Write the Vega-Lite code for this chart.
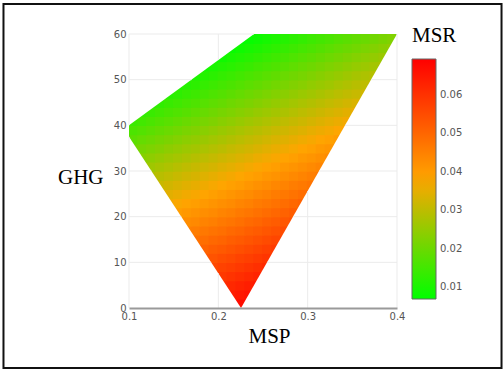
{
"$schema": "https://vega.github.io/schema/vega-lite/v6.json",
"autosize": {"type": "none"},
"width": 268,
"height": 274,
"padding": {"left": 129, "top": 34, "right": 107, "bottom": 62},
"background": "white",
"config": {"view": {"stroke": null}},
"layer": [
{
"data": {"values": [
{"MSP":0.215,"GHG":1,"MSR":0.0660},{"MSP":0.225,"GHG":1,"MSR":0.0670},{"MSP":0.235,"GHG":1,"MSR":0.0679},
{"MSP":0.215,"GHG":3,"MSR":0.0639},{"MSP":0.225,"GHG":3,"MSR":0.0649},{"MSP":0.235,"GHG":3,"MSR":0.0658},
{"MSP":0.205,"GHG":5,"MSR":0.0609},{"MSP":0.215,"GHG":5,"MSR":0.0619},{"MSP":0.225,"GHG":5,"MSR":0.0628},{"MSP":0.235,"GHG":5,"MSR":0.0637},{"MSP":0.245,"GHG":5,"MSR":0.0647},
{"MSP":0.195,"GHG":7,"MSR":0.0579},{"MSP":0.205,"GHG":7,"MSR":0.0588},{"MSP":0.215,"GHG":7,"MSR":0.0598},{"MSP":0.225,"GHG":7,"MSR":0.0607},{"MSP":0.235,"GHG":7,"MSR":0.0617},{"MSP":0.245,"GHG":7,"MSR":0.0626},
{"MSP":0.195,"GHG":9,"MSR":0.0558},{"MSP":0.205,"GHG":9,"MSR":0.0568},{"MSP":0.215,"GHG":9,"MSR":0.0577},{"MSP":0.225,"GHG":9,"MSR":0.0586},{"MSP":0.235,"GHG":9,"MSR":0.0596},{"MSP":0.245,"GHG":9,"MSR":0.0605},{"MSP":0.255,"GHG":9,"MSR":0.0615},
{"MSP":0.185,"GHG":11,"MSR":0.0528},{"MSP":0.195,"GHG":11,"MSR":0.0537},{"MSP":0.205,"GHG":11,"MSR":0.0547},{"MSP":0.215,"GHG":11,"MSR":0.0556},{"MSP":0.225,"GHG":11,"MSR":0.0566},{"MSP":0.235,"GHG":11,"MSR":0.0575},{"MSP":0.245,"GHG":11,"MSR":0.0584},{"MSP":0.255,"GHG":11,"MSR":0.0594},{"MSP":0.265,"GHG":11,"MSR":0.0603},
{"MSP":0.175,"GHG":13,"MSR":0.0498},{"MSP":0.185,"GHG":13,"MSR":0.0507},{"MSP":0.195,"GHG":13,"MSR":0.0517},{"MSP":0.205,"GHG":13,"MSR":0.0526},{"MSP":0.215,"GHG":13,"MSR":0.0535},{"MSP":0.225,"GHG":13,"MSR":0.0545},{"MSP":0.235,"GHG":13,"MSR":0.0554},{"MSP":0.245,"GHG":13,"MSR":0.0564},{"MSP":0.255,"GHG":13,"MSR":0.0573},{"MSP":0.265,"GHG":13,"MSR":0.0582},
{"MSP":0.175,"GHG":15,"MSR":0.0477},{"MSP":0.185,"GHG":15,"MSR":0.0486},{"MSP":0.195,"GHG":15,"MSR":0.0496},{"MSP":0.205,"GHG":15,"MSR":0.0505},{"MSP":0.215,"GHG":15,"MSR":0.0515},{"MSP":0.225,"GHG":15,"MSR":0.0524},{"MSP":0.235,"GHG":15,"MSR":0.0533},{"MSP":0.245,"GHG":15,"MSR":0.0543},{"MSP":0.255,"GHG":15,"MSR":0.0552},{"MSP":0.265,"GHG":15,"MSR":0.0562},{"MSP":0.275,"GHG":15,"MSR":0.0571},
{"MSP":0.165,"GHG":17,"MSR":0.0447},{"MSP":0.175,"GHG":17,"MSR":0.0456},{"MSP":0.185,"GHG":17,"MSR":0.0466},{"MSP":0.195,"GHG":17,"MSR":0.0475},{"MSP":0.205,"GHG":17,"MSR":0.0484},{"MSP":0.215,"GHG":17,"MSR":0.0494},{"MSP":0.225,"GHG":17,"MSR":0.0503},{"MSP":0.235,"GHG":17,"MSR":0.0513},{"MSP":0.245,"GHG":17,"MSR":0.0522},{"MSP":0.255,"GHG":17,"MSR":0.0531},{"MSP":0.265,"GHG":17,"MSR":0.0541},{"MSP":0.275,"GHG":17,"MSR":0.0550},
{"MSP":0.155,"GHG":19,"MSR":0.0417},{"MSP":0.165,"GHG":19,"MSR":0.0426},{"MSP":0.175,"GHG":19,"MSR":0.0435},{"MSP":0.185,"GHG":19,"MSR":0.0445},{"MSP":0.195,"GHG":19,"MSR":0.0454},{"MSP":0.205,"GHG":19,"MSR":0.0464},{"MSP":0.215,"GHG":19,"MSR":0.0473},{"MSP":0.225,"GHG":19,"MSR":0.0482},{"MSP":0.235,"GHG":19,"MSR":0.0492},{"MSP":0.245,"GHG":19,"MSR":0.0501},{"MSP":0.255,"GHG":19,"MSR":0.0511},{"MSP":0.265,"GHG":19,"MSR":0.0520},{"MSP":0.275,"GHG":19,"MSR":0.0529},{"MSP":0.285,"GHG":19,"MSR":0.0539},
{"MSP":0.155,"GHG":21,"MSR":0.0396},{"MSP":0.165,"GHG":21,"MSR":0.0405},{"MSP":0.175,"GHG":21,"MSR":0.0415},{"MSP":0.185,"GHG":21,"MSR":0.0424},{"MSP":0.195,"GHG":21,"MSR":0.0433},{"MSP":0.205,"GHG":21,"MSR":0.0443},{"MSP":0.215,"GHG":21,"MSR":0.0452},{"MSP":0.225,"GHG":21,"MSR":0.0462},{"MSP":0.235,"GHG":21,"MSR":0.0471},{"MSP":0.245,"GHG":21,"MSR":0.0480},{"MSP":0.255,"GHG":21,"MSR":0.0490},{"MSP":0.265,"GHG":21,"MSR":0.0499},{"MSP":0.275,"GHG":21,"MSR":0.0509},{"MSP":0.285,"GHG":21,"MSR":0.0518},
{"MSP":0.145,"GHG":23,"MSR":0.0366},{"MSP":0.155,"GHG":23,"MSR":0.0375},{"MSP":0.165,"GHG":23,"MSR":0.0384},{"MSP":0.175,"GHG":23,"MSR":0.0394},{"MSP":0.185,"GHG":23,"MSR":0.0403},{"MSP":0.195,"GHG":23,"MSR":0.0413},{"MSP":0.205,"GHG":23,"MSR":0.0422},{"MSP":0.215,"GHG":23,"MSR":0.0431},{"MSP":0.225,"GHG":23,"MSR":0.0441},{"MSP":0.235,"GHG":23,"MSR":0.0450},{"MSP":0.245,"GHG":23,"MSR":0.0460},{"MSP":0.255,"GHG":23,"MSR":0.0469},{"MSP":0.265,"GHG":23,"MSR":0.0478},{"MSP":0.275,"GHG":23,"MSR":0.0488},{"MSP":0.285,"GHG":23,"MSR":0.0497},{"MSP":0.295,"GHG":23,"MSR":0.0507},
{"MSP":0.135,"GHG":25,"MSR":0.0335},{"MSP":0.145,"GHG":25,"MSR":0.0345},{"MSP":0.155,"GHG":25,"MSR":0.0354},{"MSP":0.165,"GHG":25,"MSR":0.0364},{"MSP":0.175,"GHG":25,"MSR":0.0373},{"MSP":0.185,"GHG":25,"MSR":0.0382},{"MSP":0.195,"GHG":25,"MSR":0.0392},{"MSP":0.205,"GHG":25,"MSR":0.0401},{"MSP":0.215,"GHG":25,"MSR":0.0411},{"MSP":0.225,"GHG":25,"MSR":0.0420},{"MSP":0.235,"GHG":25,"MSR":0.0429},{"MSP":0.245,"GHG":25,"MSR":0.0439},{"MSP":0.255,"GHG":25,"MSR":0.0448},{"MSP":0.265,"GHG":25,"MSR":0.0458},{"MSP":0.275,"GHG":25,"MSR":0.0467},{"MSP":0.285,"GHG":25,"MSR":0.0476},{"MSP":0.295,"GHG":25,"MSR":0.0486},{"MSP":0.305,"GHG":25,"MSR":0.0495},
{"MSP":0.135,"GHG":27,"MSR":0.0315},{"MSP":0.145,"GHG":27,"MSR":0.0324},{"MSP":0.155,"GHG":27,"MSR":0.0333},{"MSP":0.165,"GHG":27,"MSR":0.0343},{"MSP":0.175,"GHG":27,"MSR":0.0352},{"MSP":0.185,"GHG":27,"MSR":0.0362},{"MSP":0.195,"GHG":27,"MSR":0.0371},{"MSP":0.205,"GHG":27,"MSR":0.0380},{"MSP":0.215,"GHG":27,"MSR":0.0390},{"MSP":0.225,"GHG":27,"MSR":0.0399},{"MSP":0.235,"GHG":27,"MSR":0.0409},{"MSP":0.245,"GHG":27,"MSR":0.0418},{"MSP":0.255,"GHG":27,"MSR":0.0427},{"MSP":0.265,"GHG":27,"MSR":0.0437},{"MSP":0.275,"GHG":27,"MSR":0.0446},{"MSP":0.285,"GHG":27,"MSR":0.0456},{"MSP":0.295,"GHG":27,"MSR":0.0465},{"MSP":0.305,"GHG":27,"MSR":0.0474},
{"MSP":0.125,"GHG":29,"MSR":0.0284},{"MSP":0.135,"GHG":29,"MSR":0.0294},{"MSP":0.145,"GHG":29,"MSR":0.0303},{"MSP":0.155,"GHG":29,"MSR":0.0313},{"MSP":0.165,"GHG":29,"MSR":0.0322},{"MSP":0.175,"GHG":29,"MSR":0.0331},{"MSP":0.185,"GHG":29,"MSR":0.0341},{"MSP":0.195,"GHG":29,"MSR":0.0350},{"MSP":0.205,"GHG":29,"MSR":0.0360},{"MSP":0.215,"GHG":29,"MSR":0.0369},{"MSP":0.225,"GHG":29,"MSR":0.0378},{"MSP":0.235,"GHG":29,"MSR":0.0388},{"MSP":0.245,"GHG":29,"MSR":0.0397},{"MSP":0.255,"GHG":29,"MSR":0.0407},{"MSP":0.265,"GHG":29,"MSR":0.0416},{"MSP":0.275,"GHG":29,"MSR":0.0425},{"MSP":0.285,"GHG":29,"MSR":0.0435},{"MSP":0.295,"GHG":29,"MSR":0.0444},{"MSP":0.305,"GHG":29,"MSR":0.0454},{"MSP":0.315,"GHG":29,"MSR":0.0463},
{"MSP":0.115,"GHG":31,"MSR":0.0254},{"MSP":0.125,"GHG":31,"MSR":0.0264},{"MSP":0.135,"GHG":31,"MSR":0.0273},{"MSP":0.145,"GHG":31,"MSR":0.0282},{"MSP":0.155,"GHG":31,"MSR":0.0292},{"MSP":0.165,"GHG":31,"MSR":0.0301},{"MSP":0.175,"GHG":31,"MSR":0.0311},{"MSP":0.185,"GHG":31,"MSR":0.0320},{"MSP":0.195,"GHG":31,"MSR":0.0329},{"MSP":0.205,"GHG":31,"MSR":0.0339},{"MSP":0.215,"GHG":31,"MSR":0.0348},{"MSP":0.225,"GHG":31,"MSR":0.0358},{"MSP":0.235,"GHG":31,"MSR":0.0367},{"MSP":0.245,"GHG":31,"MSR":0.0376},{"MSP":0.255,"GHG":31,"MSR":0.0386},{"MSP":0.265,"GHG":31,"MSR":0.0395},{"MSP":0.275,"GHG":31,"MSR":0.0405},{"MSP":0.285,"GHG":31,"MSR":0.0414},{"MSP":0.295,"GHG":31,"MSR":0.0423},{"MSP":0.305,"GHG":31,"MSR":0.0433},{"MSP":0.315,"GHG":31,"MSR":0.0442},
{"MSP":0.115,"GHG":33,"MSR":0.0233},{"MSP":0.125,"GHG":33,"MSR":0.0243},{"MSP":0.135,"GHG":33,"MSR":0.0252},{"MSP":0.145,"GHG":33,"MSR":0.0262},{"MSP":0.155,"GHG":33,"MSR":0.0271},{"MSP":0.165,"GHG":33,"MSR":0.0280},{"MSP":0.175,"GHG":33,"MSR":0.0290},{"MSP":0.185,"GHG":33,"MSR":0.0299},{"MSP":0.195,"GHG":33,"MSR":0.0309},{"MSP":0.205,"GHG":33,"MSR":0.0318},{"MSP":0.215,"GHG":33,"MSR":0.0327},{"MSP":0.225,"GHG":33,"MSR":0.0337},{"MSP":0.235,"GHG":33,"MSR":0.0346},{"MSP":0.245,"GHG":33,"MSR":0.0356},{"MSP":0.255,"GHG":33,"MSR":0.0365},{"MSP":0.265,"GHG":33,"MSR":0.0374},{"MSP":0.275,"GHG":33,"MSR":0.0384},{"MSP":0.285,"GHG":33,"MSR":0.0393},{"MSP":0.295,"GHG":33,"MSR":0.0403},{"MSP":0.305,"GHG":33,"MSR":0.0412},{"MSP":0.315,"GHG":33,"MSR":0.0421},{"MSP":0.325,"GHG":33,"MSR":0.0431},
{"MSP":0.105,"GHG":35,"MSR":0.0203},{"MSP":0.115,"GHG":35,"MSR":0.0213},{"MSP":0.125,"GHG":35,"MSR":0.0222},{"MSP":0.135,"GHG":35,"MSR":0.0231},{"MSP":0.145,"GHG":35,"MSR":0.0241},{"MSP":0.155,"GHG":35,"MSR":0.0250},{"MSP":0.165,"GHG":35,"MSR":0.0260},{"MSP":0.175,"GHG":35,"MSR":0.0269},{"MSP":0.185,"GHG":35,"MSR":0.0278},{"MSP":0.195,"GHG":35,"MSR":0.0288},{"MSP":0.205,"GHG":35,"MSR":0.0297},{"MSP":0.215,"GHG":35,"MSR":0.0307},{"MSP":0.225,"GHG":35,"MSR":0.0316},{"MSP":0.235,"GHG":35,"MSR":0.0325},{"MSP":0.245,"GHG":35,"MSR":0.0335},{"MSP":0.255,"GHG":35,"MSR":0.0344},{"MSP":0.265,"GHG":35,"MSR":0.0354},{"MSP":0.275,"GHG":35,"MSR":0.0363},{"MSP":0.285,"GHG":35,"MSR":0.0372},{"MSP":0.295,"GHG":35,"MSR":0.0382},{"MSP":0.305,"GHG":35,"MSR":0.0391},{"MSP":0.315,"GHG":35,"MSR":0.0401},{"MSP":0.325,"GHG":35,"MSR":0.0410},{"MSP":0.335,"GHG":35,"MSR":0.0419},
{"MSP":0.105,"GHG":37,"MSR":0.0182},{"MSP":0.115,"GHG":37,"MSR":0.0192},{"MSP":0.125,"GHG":37,"MSR":0.0201},{"MSP":0.135,"GHG":37,"MSR":0.0211},{"MSP":0.145,"GHG":37,"MSR":0.0220},{"MSP":0.155,"GHG":37,"MSR":0.0229},{"MSP":0.165,"GHG":37,"MSR":0.0239},{"MSP":0.175,"GHG":37,"MSR":0.0248},{"MSP":0.185,"GHG":37,"MSR":0.0258},{"MSP":0.195,"GHG":37,"MSR":0.0267},{"MSP":0.205,"GHG":37,"MSR":0.0276},{"MSP":0.215,"GHG":37,"MSR":0.0286},{"MSP":0.225,"GHG":37,"MSR":0.0295},{"MSP":0.235,"GHG":37,"MSR":0.0305},{"MSP":0.245,"GHG":37,"MSR":0.0314},{"MSP":0.255,"GHG":37,"MSR":0.0323},{"MSP":0.265,"GHG":37,"MSR":0.0333},{"MSP":0.275,"GHG":37,"MSR":0.0342},{"MSP":0.285,"GHG":37,"MSR":0.0352},{"MSP":0.295,"GHG":37,"MSR":0.0361},{"MSP":0.305,"GHG":37,"MSR":0.0370},{"MSP":0.315,"GHG":37,"MSR":0.0380},{"MSP":0.325,"GHG":37,"MSR":0.0389},{"MSP":0.335,"GHG":37,"MSR":0.0399},
{"MSP":0.105,"GHG":39,"MSR":0.0162},{"MSP":0.115,"GHG":39,"MSR":0.0171},{"MSP":0.125,"GHG":39,"MSR":0.0180},{"MSP":0.135,"GHG":39,"MSR":0.0190},{"MSP":0.145,"GHG":39,"MSR":0.0199},{"MSP":0.155,"GHG":39,"MSR":0.0209},{"MSP":0.165,"GHG":39,"MSR":0.0218},{"MSP":0.175,"GHG":39,"MSR":0.0227},{"MSP":0.185,"GHG":39,"MSR":0.0237},{"MSP":0.195,"GHG":39,"MSR":0.0246},{"MSP":0.205,"GHG":39,"MSR":0.0256},{"MSP":0.215,"GHG":39,"MSR":0.0265},{"MSP":0.225,"GHG":39,"MSR":0.0274},{"MSP":0.235,"GHG":39,"MSR":0.0284},{"MSP":0.245,"GHG":39,"MSR":0.0293},{"MSP":0.255,"GHG":39,"MSR":0.0303},{"MSP":0.265,"GHG":39,"MSR":0.0312},{"MSP":0.275,"GHG":39,"MSR":0.0321},{"MSP":0.285,"GHG":39,"MSR":0.0331},{"MSP":0.295,"GHG":39,"MSR":0.0340},{"MSP":0.305,"GHG":39,"MSR":0.0350},{"MSP":0.315,"GHG":39,"MSR":0.0359},{"MSP":0.325,"GHG":39,"MSR":0.0368},{"MSP":0.335,"GHG":39,"MSR":0.0378},{"MSP":0.345,"GHG":39,"MSR":0.0387},
{"MSP":0.105,"GHG":41,"MSR":0.0141},{"MSP":0.115,"GHG":41,"MSR":0.0150},{"MSP":0.125,"GHG":41,"MSR":0.0160},{"MSP":0.135,"GHG":41,"MSR":0.0169},{"MSP":0.145,"GHG":41,"MSR":0.0178},{"MSP":0.155,"GHG":41,"MSR":0.0188},{"MSP":0.165,"GHG":41,"MSR":0.0197},{"MSP":0.175,"GHG":41,"MSR":0.0207},{"MSP":0.185,"GHG":41,"MSR":0.0216},{"MSP":0.195,"GHG":41,"MSR":0.0225},{"MSP":0.205,"GHG":41,"MSR":0.0235},{"MSP":0.215,"GHG":41,"MSR":0.0244},{"MSP":0.225,"GHG":41,"MSR":0.0254},{"MSP":0.235,"GHG":41,"MSR":0.0263},{"MSP":0.245,"GHG":41,"MSR":0.0272},{"MSP":0.255,"GHG":41,"MSR":0.0282},{"MSP":0.265,"GHG":41,"MSR":0.0291},{"MSP":0.275,"GHG":41,"MSR":0.0301},{"MSP":0.285,"GHG":41,"MSR":0.0310},{"MSP":0.295,"GHG":41,"MSR":0.0319},{"MSP":0.305,"GHG":41,"MSR":0.0329},{"MSP":0.315,"GHG":41,"MSR":0.0338},{"MSP":0.325,"GHG":41,"MSR":0.0348},{"MSP":0.335,"GHG":41,"MSR":0.0357},{"MSP":0.345,"GHG":41,"MSR":0.0366},
{"MSP":0.115,"GHG":43,"MSR":0.0129},{"MSP":0.125,"GHG":43,"MSR":0.0139},{"MSP":0.135,"GHG":43,"MSR":0.0148},{"MSP":0.145,"GHG":43,"MSR":0.0158},{"MSP":0.155,"GHG":43,"MSR":0.0167},{"MSP":0.165,"GHG":43,"MSR":0.0176},{"MSP":0.175,"GHG":43,"MSR":0.0186},{"MSP":0.185,"GHG":43,"MSR":0.0195},{"MSP":0.195,"GHG":43,"MSR":0.0205},{"MSP":0.205,"GHG":43,"MSR":0.0214},{"MSP":0.215,"GHG":43,"MSR":0.0223},{"MSP":0.225,"GHG":43,"MSR":0.0233},{"MSP":0.235,"GHG":43,"MSR":0.0242},{"MSP":0.245,"GHG":43,"MSR":0.0252},{"MSP":0.255,"GHG":43,"MSR":0.0261},{"MSP":0.265,"GHG":43,"MSR":0.0270},{"MSP":0.275,"GHG":43,"MSR":0.0280},{"MSP":0.285,"GHG":43,"MSR":0.0289},{"MSP":0.295,"GHG":43,"MSR":0.0299},{"MSP":0.305,"GHG":43,"MSR":0.0308},{"MSP":0.315,"GHG":43,"MSR":0.0317},{"MSP":0.325,"GHG":43,"MSR":0.0327},{"MSP":0.335,"GHG":43,"MSR":0.0336},{"MSP":0.345,"GHG":43,"MSR":0.0346},{"MSP":0.355,"GHG":43,"MSR":0.0355},
{"MSP":0.125,"GHG":45,"MSR":0.0118},{"MSP":0.135,"GHG":45,"MSR":0.0127},{"MSP":0.145,"GHG":45,"MSR":0.0137},{"MSP":0.155,"GHG":45,"MSR":0.0146},{"MSP":0.165,"GHG":45,"MSR":0.0156},{"MSP":0.175,"GHG":45,"MSR":0.0165},{"MSP":0.185,"GHG":45,"MSR":0.0174},{"MSP":0.195,"GHG":45,"MSR":0.0184},{"MSP":0.205,"GHG":45,"MSR":0.0193},{"MSP":0.215,"GHG":45,"MSR":0.0203},{"MSP":0.225,"GHG":45,"MSR":0.0212},{"MSP":0.235,"GHG":45,"MSR":0.0221},{"MSP":0.245,"GHG":45,"MSR":0.0231},{"MSP":0.255,"GHG":45,"MSR":0.0240},{"MSP":0.265,"GHG":45,"MSR":0.0250},{"MSP":0.275,"GHG":45,"MSR":0.0259},{"MSP":0.285,"GHG":45,"MSR":0.0268},{"MSP":0.295,"GHG":45,"MSR":0.0278},{"MSP":0.305,"GHG":45,"MSR":0.0287},{"MSP":0.315,"GHG":45,"MSR":0.0297},{"MSP":0.325,"GHG":45,"MSR":0.0306},{"MSP":0.335,"GHG":45,"MSR":0.0315},{"MSP":0.345,"GHG":45,"MSR":0.0325},{"MSP":0.355,"GHG":45,"MSR":0.0334},
{"MSP":0.145,"GHG":47,"MSR":0.0116},{"MSP":0.155,"GHG":47,"MSR":0.0125},{"MSP":0.165,"GHG":47,"MSR":0.0135},{"MSP":0.175,"GHG":47,"MSR":0.0144},{"MSP":0.185,"GHG":47,"MSR":0.0154},{"MSP":0.195,"GHG":47,"MSR":0.0163},{"MSP":0.205,"GHG":47,"MSR":0.0172},{"MSP":0.215,"GHG":47,"MSR":0.0182},{"MSP":0.225,"GHG":47,"MSR":0.0191},{"MSP":0.235,"GHG":47,"MSR":0.0201},{"MSP":0.245,"GHG":47,"MSR":0.0210},{"MSP":0.255,"GHG":47,"MSR":0.0219},{"MSP":0.265,"GHG":47,"MSR":0.0229},{"MSP":0.275,"GHG":47,"MSR":0.0238},{"MSP":0.285,"GHG":47,"MSR":0.0248},{"MSP":0.295,"GHG":47,"MSR":0.0257},{"MSP":0.305,"GHG":47,"MSR":0.0266},{"MSP":0.315,"GHG":47,"MSR":0.0276},{"MSP":0.325,"GHG":47,"MSR":0.0285},{"MSP":0.335,"GHG":47,"MSR":0.0295},{"MSP":0.345,"GHG":47,"MSR":0.0304},{"MSP":0.355,"GHG":47,"MSR":0.0313},{"MSP":0.365,"GHG":47,"MSR":0.0323},
{"MSP":0.155,"GHG":49,"MSR":0.0105},{"MSP":0.165,"GHG":49,"MSR":0.0114},{"MSP":0.175,"GHG":49,"MSR":0.0123},{"MSP":0.185,"GHG":49,"MSR":0.0133},{"MSP":0.195,"GHG":49,"MSR":0.0142},{"MSP":0.205,"GHG":49,"MSR":0.0152},{"MSP":0.215,"GHG":49,"MSR":0.0161},{"MSP":0.225,"GHG":49,"MSR":0.0170},{"MSP":0.235,"GHG":49,"MSR":0.0180},{"MSP":0.245,"GHG":49,"MSR":0.0189},{"MSP":0.255,"GHG":49,"MSR":0.0199},{"MSP":0.265,"GHG":49,"MSR":0.0208},{"MSP":0.275,"GHG":49,"MSR":0.0217},{"MSP":0.285,"GHG":49,"MSR":0.0227},{"MSP":0.295,"GHG":49,"MSR":0.0236},{"MSP":0.305,"GHG":49,"MSR":0.0246},{"MSP":0.315,"GHG":49,"MSR":0.0255},{"MSP":0.325,"GHG":49,"MSR":0.0264},{"MSP":0.335,"GHG":49,"MSR":0.0274},{"MSP":0.345,"GHG":49,"MSR":0.0283},{"MSP":0.355,"GHG":49,"MSR":0.0293},{"MSP":0.365,"GHG":49,"MSR":0.0302},{"MSP":0.375,"GHG":49,"MSR":0.0311},
{"MSP":0.175,"GHG":51,"MSR":0.0103},{"MSP":0.185,"GHG":51,"MSR":0.0112},{"MSP":0.195,"GHG":51,"MSR":0.0121},{"MSP":0.205,"GHG":51,"MSR":0.0131},{"MSP":0.215,"GHG":51,"MSR":0.0140},{"MSP":0.225,"GHG":51,"MSR":0.0150},{"MSP":0.235,"GHG":51,"MSR":0.0159},{"MSP":0.245,"GHG":51,"MSR":0.0168},{"MSP":0.255,"GHG":51,"MSR":0.0178},{"MSP":0.265,"GHG":51,"MSR":0.0187},{"MSP":0.275,"GHG":51,"MSR":0.0197},{"MSP":0.285,"GHG":51,"MSR":0.0206},{"MSP":0.295,"GHG":51,"MSR":0.0215},{"MSP":0.305,"GHG":51,"MSR":0.0225},{"MSP":0.315,"GHG":51,"MSR":0.0234},{"MSP":0.325,"GHG":51,"MSR":0.0244},{"MSP":0.335,"GHG":51,"MSR":0.0253},{"MSP":0.345,"GHG":51,"MSR":0.0262},{"MSP":0.355,"GHG":51,"MSR":0.0272},{"MSP":0.365,"GHG":51,"MSR":0.0281},{"MSP":0.375,"GHG":51,"MSR":0.0291},
{"MSP":0.185,"GHG":53,"MSR":0.0091},{"MSP":0.195,"GHG":53,"MSR":0.0101},{"MSP":0.205,"GHG":53,"MSR":0.0110},{"MSP":0.215,"GHG":53,"MSR":0.0119},{"MSP":0.225,"GHG":53,"MSR":0.0129},{"MSP":0.235,"GHG":53,"MSR":0.0138},{"MSP":0.245,"GHG":53,"MSR":0.0148},{"MSP":0.255,"GHG":53,"MSR":0.0157},{"MSP":0.265,"GHG":53,"MSR":0.0166},{"MSP":0.275,"GHG":53,"MSR":0.0176},{"MSP":0.285,"GHG":53,"MSR":0.0185},{"MSP":0.295,"GHG":53,"MSR":0.0195},{"MSP":0.305,"GHG":53,"MSR":0.0204},{"MSP":0.315,"GHG":53,"MSR":0.0213},{"MSP":0.325,"GHG":53,"MSR":0.0223},{"MSP":0.335,"GHG":53,"MSR":0.0232},{"MSP":0.345,"GHG":53,"MSR":0.0242},{"MSP":0.355,"GHG":53,"MSR":0.0251},{"MSP":0.365,"GHG":53,"MSR":0.0260},{"MSP":0.375,"GHG":53,"MSR":0.0270},{"MSP":0.385,"GHG":53,"MSR":0.0279},
{"MSP":0.195,"GHG":55,"MSR":0.0080},{"MSP":0.205,"GHG":55,"MSR":0.0089},{"MSP":0.215,"GHG":55,"MSR":0.0099},{"MSP":0.225,"GHG":55,"MSR":0.0108},{"MSP":0.235,"GHG":55,"MSR":0.0117},{"MSP":0.245,"GHG":55,"MSR":0.0127},{"MSP":0.255,"GHG":55,"MSR":0.0136},{"MSP":0.265,"GHG":55,"MSR":0.0146},{"MSP":0.275,"GHG":55,"MSR":0.0155},{"MSP":0.285,"GHG":55,"MSR":0.0164},{"MSP":0.295,"GHG":55,"MSR":0.0174},{"MSP":0.305,"GHG":55,"MSR":0.0183},{"MSP":0.315,"GHG":55,"MSR":0.0193},{"MSP":0.325,"GHG":55,"MSR":0.0202},{"MSP":0.335,"GHG":55,"MSR":0.0211},{"MSP":0.345,"GHG":55,"MSR":0.0221},{"MSP":0.355,"GHG":55,"MSR":0.0230},{"MSP":0.365,"GHG":55,"MSR":0.0240},{"MSP":0.375,"GHG":55,"MSR":0.0249},{"MSP":0.385,"GHG":55,"MSR":0.0258},
{"MSP":0.215,"GHG":57,"MSR":0.0078},{"MSP":0.225,"GHG":57,"MSR":0.0087},{"MSP":0.235,"GHG":57,"MSR":0.0097},{"MSP":0.245,"GHG":57,"MSR":0.0106},{"MSP":0.255,"GHG":57,"MSR":0.0115},{"MSP":0.265,"GHG":57,"MSR":0.0125},{"MSP":0.275,"GHG":57,"MSR":0.0134},{"MSP":0.285,"GHG":57,"MSR":0.0144},{"MSP":0.295,"GHG":57,"MSR":0.0153},{"MSP":0.305,"GHG":57,"MSR":0.0162},{"MSP":0.315,"GHG":57,"MSR":0.0172},{"MSP":0.325,"GHG":57,"MSR":0.0181},{"MSP":0.335,"GHG":57,"MSR":0.0191},{"MSP":0.345,"GHG":57,"MSR":0.0200},{"MSP":0.355,"GHG":57,"MSR":0.0209},{"MSP":0.365,"GHG":57,"MSR":0.0219},{"MSP":0.375,"GHG":57,"MSR":0.0228},{"MSP":0.385,"GHG":57,"MSR":0.0238},{"MSP":0.395,"GHG":57,"MSR":0.0247},
{"MSP":0.225,"GHG":59,"MSR":0.0066},{"MSP":0.235,"GHG":59,"MSR":0.0076},{"MSP":0.245,"GHG":59,"MSR":0.0085},{"MSP":0.255,"GHG":59,"MSR":0.0095},{"MSP":0.265,"GHG":59,"MSR":0.0104},{"MSP":0.275,"GHG":59,"MSR":0.0113},{"MSP":0.285,"GHG":59,"MSR":0.0123},{"MSP":0.295,"GHG":59,"MSR":0.0132},{"MSP":0.305,"GHG":59,"MSR":0.0142},{"MSP":0.315,"GHG":59,"MSR":0.0151},{"MSP":0.325,"GHG":59,"MSR":0.0160},{"MSP":0.335,"GHG":59,"MSR":0.0170},{"MSP":0.345,"GHG":59,"MSR":0.0179},{"MSP":0.355,"GHG":59,"MSR":0.0189},{"MSP":0.365,"GHG":59,"MSR":0.0198},{"MSP":0.375,"GHG":59,"MSR":0.0207},{"MSP":0.385,"GHG":59,"MSR":0.0217},{"MSP":0.395,"GHG":59,"MSR":0.0226}
]},
"mark": {"type": "square", "filled": true, "opacity": 1, "size": 110, "strokeWidth": 0, "clip": true},
"encoding": {
"x": {"field": "MSP", "type": "quantitative",
"scale": {"domain": [0.1, 0.4], "nice": false, "zero": false},
"axis": {"values": [0.1, 0.2, 0.3, 0.4], "format": ".1f", "grid": false, "zindex": 1,
"domain": true, "domainColor": "#9a9a9a", "domainWidth": 2, "ticks": false, "tickSize": 0, "labelPadding": 3, "labelFlush": false,
"labelFont": "DejaVu Sans", "labelFontSize": 10, "labelColor": "#555555",
"title": "MSP", "titleFont": "Liberation Serif", "titleFontSize": 21, "titleFontWeight": "normal", "titleColor": "#000000",
"titleAlign": "center", "titleBaseline": "alphabetic", "titleX": 140, "titleY": 34}},
"y": {"field": "GHG", "type": "quantitative",
"scale": {"domain": [0, 60], "nice": false, "zero": false},
"axis": {"values": [0, 10, 20, 30, 40, 50, 60], "grid": false,
"domain": false, "ticks": false, "tickSize": 0, "labelPadding": 3, "labelFlush": false,
"labelFont": "DejaVu Sans", "labelFontSize": 10, "labelColor": "#555555",
"title": "GHG", "titleFont": "Liberation Serif", "titleFontSize": 21, "titleFontWeight": "normal", "titleColor": "#000000",
"titleAngle": 0, "titleAlign": "right", "titleBaseline": "alphabetic", "titleX": -26, "titleY": 149}},
"color": {"field": "MSR", "type": "quantitative",
"scale": {"domain": [0.0069, 0.0381, 0.0694], "range": ["#00ff00", "#ffa500", "#ff0000"], "interpolate": "rgb", "clamp": true},
"legend": {"orient": "none", "legendX": 283, "legendY": -9, "direction": "vertical",
"gradientLength": 240, "gradientThickness": 24, "gradientStrokeColor": "#666666", "gradientStrokeWidth": 1,
"values": [0.01, 0.02, 0.03, 0.04, 0.05, 0.06], "format": ".2f", "labelOverlap": false,
"labelFont": "DejaVu Sans", "labelFontSize": 10, "labelColor": "#555555", "labelOffset": 4,
"title": "MSR", "titleFont": "Liberation Serif", "titleFontSize": 21, "titleFontWeight": "normal", "titleColor": "#000000", "titlePadding": 13}}
}
},
{
"data": {"values": [
{"region": "lower-left", "MSP": 0.1, "GHG_top": 37.5, "GHG_bottom": 0},
{"region": "lower-left", "MSP": 0.2254, "GHG_top": 0, "GHG_bottom": 0},
{"region": "right", "MSP": 0.2254, "GHG_top": 0, "GHG_bottom": 0},
{"region": "right", "MSP": 0.4, "GHG_top": 60, "GHG_bottom": 0},
{"region": "upper-left", "MSP": 0.1, "GHG_top": 60, "GHG_bottom": 40},
{"region": "upper-left", "MSP": 0.24, "GHG_top": 60, "GHG_bottom": 60}
]},
"mark": {"type": "area", "fill": "white", "opacity": 1, "interpolate": "linear"},
"encoding": {
"x": {"field": "MSP", "type": "quantitative"},
"y": {"field": "GHG_top", "type": "quantitative"},
"y2": {"field": "GHG_bottom"},
"detail": {"field": "region", "type": "nominal"}
}
},
{
"data": {"values": [
{"MSP_from": 0.1, "MSP_to": 0.192, "GHG_from": 10, "GHG_to": 10},
{"MSP_from": 0.2545, "MSP_to": 0.4, "GHG_from": 10, "GHG_to": 10},
{"MSP_from": 0.1, "MSP_to": 0.1585, "GHG_from": 20, "GHG_to": 20},
{"MSP_from": 0.2836, "MSP_to": 0.4, "GHG_from": 20, "GHG_to": 20},
{"MSP_from": 0.1, "MSP_to": 0.1251, "GHG_from": 30, "GHG_to": 30},
{"MSP_from": 0.3127, "MSP_to": 0.4, "GHG_from": 30, "GHG_to": 30},
{"MSP_from": 0.3418, "MSP_to": 0.4, "GHG_from": 40, "GHG_to": 40},
{"MSP_from": 0.1, "MSP_to": 0.17, "GHG_from": 50, "GHG_to": 50},
{"MSP_from": 0.3709, "MSP_to": 0.4, "GHG_from": 50, "GHG_to": 50},
{"MSP_from": 0.1, "MSP_to": 0.24, "GHG_from": 60, "GHG_to": 60},
{"MSP_from": 0.1, "MSP_to": 0.1, "GHG_from": 0, "GHG_to": 37.5},
{"MSP_from": 0.1, "MSP_to": 0.1, "GHG_from": 40, "GHG_to": 60},
{"MSP_from": 0.2, "MSP_to": 0.2, "GHG_from": 0, "GHG_to": 7.6},
{"MSP_from": 0.2, "MSP_to": 0.2, "GHG_from": 54.29, "GHG_to": 60},
{"MSP_from": 0.3, "MSP_to": 0.3, "GHG_from": 0, "GHG_to": 25.6},
{"MSP_from": 0.4, "MSP_to": 0.4, "GHG_from": 0, "GHG_to": 60}
]},
"mark": {"type": "rule", "color": "#ebebeb", "strokeWidth": 1},
"encoding": {
"x": {"field": "MSP_from", "type": "quantitative"},
"x2": {"field": "MSP_to"},
"y": {"field": "GHG_from", "type": "quantitative"},
"y2": {"field": "GHG_to"}
}
},
{
"data": {"values": [{}]},
"mark": {"type": "rect", "fill": "transparent", "stroke": "#111111", "strokeWidth": 2, "clip": false},
"encoding": {
"x": {"datum": -0.0405, "type": "quantitative", "scale": {"domain": [0.1, 0.4], "nice": false, "zero": false}},
"x2": {"datum": 0.517},
"y": {"datum": 66.57, "type": "quantitative", "scale": {"domain": [0, 60], "nice": false, "zero": false}},
"y2": {"datum": -13.14}
}
}
]
}
